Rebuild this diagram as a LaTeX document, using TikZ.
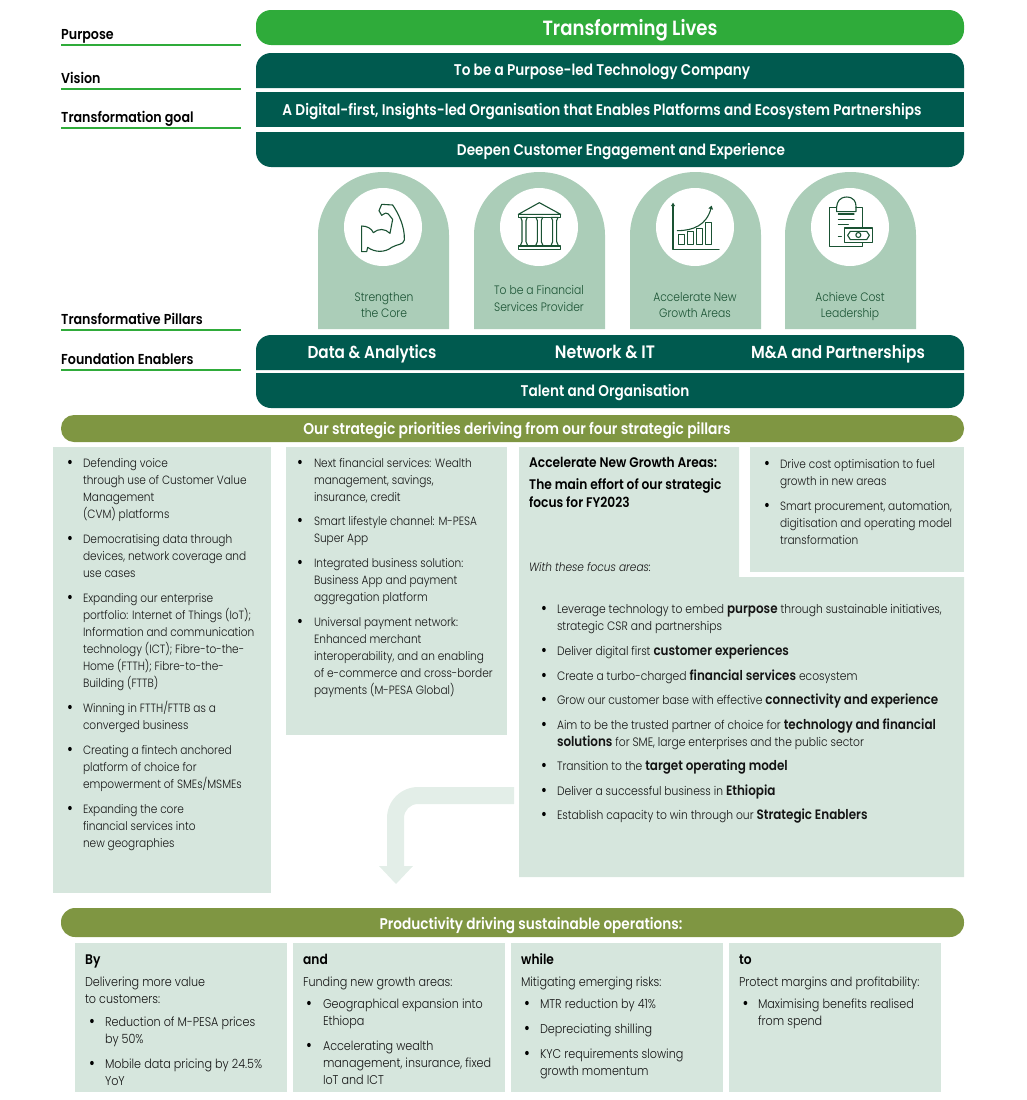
\documentclass[tikz,border=0pt]{standalone}
\usepackage{fontspec}
\setmainfont{Poppins Light}[FakeStretch=0.88,ItalicFont={Poppins Light Italic},BoldFont={Poppins SemiBold}]
\usetikzlibrary{arrows.meta}
\definecolor{brightgreen}{HTML}{2FAB3A}
\definecolor{deepgreen}{HTML}{005A4F}
\definecolor{archgreen}{HTML}{ABCDB8}
\definecolor{icongreen}{HTML}{1A5233}
\definecolor{olive}{HTML}{7F9642}
\definecolor{pale}{HTML}{D6E6DD}
\definecolor{paler}{HTML}{E3EEE8}
\newcounter{tn}
\newcommand{\bsize}{12}
\newcommand{\bodyfont}{\fontsize{\bsize}{17}\selectfont}
\newcommand{\bo}[1]{{\fontsize{13.6}{17}\selectfont\bfseries #1}}
\newcommand{\lines}[1]{\begin{tabular}[t]{@{}l@{}}#1\end{tabular}}
% plain text block: x, first baseline y, lines
\newcommand{\tl}[3]{\stepcounter{tn}\node[txt,name=t\arabic{tn}] at (#1,#2) {\lines{#3}};}
% bulleted block: dot x, text x, first baseline y, lines
\newcommand{\bl}[4]{\stepcounter{tn}\node[dotmark,name=d\arabic{tn}] at (#1,#3) {•};\node[txt,name=t\arabic{tn}] at (#2,#3) {\lines{#4}};}
\newcommand{\hd}[3]{\stepcounter{tn}\node[headtxt,name=h\arabic{tn}] at (#1,#2) {#3};}
\newcommand{\lbl}[3]{\stepcounter{tn}\node[labeltxt,name=l\arabic{tn}] at (61,#1) {#3};\coordinate (la\arabic{tn}) at (61,#2);\coordinate (lb\arabic{tn}) at (241,#2);\draw[labelline] (la\arabic{tn}) -- (lb\arabic{tn});}
\tikzset{
 txt/.style={anchor=base west,inner sep=0pt,outer sep=0pt,text=black!92,font=\bodyfont},
 dotmark/.style={anchor=base,inner sep=0pt,text=black,font=\fontsize{15}{17}\selectfont\bfseries},
 headtxt/.style={anchor=base west,inner sep=0pt,text=black,font=\fontsize{13.9}{17}\selectfont\bfseries},
 labeltxt/.style={anchor=base west,inner sep=0pt,text=black,font=\fontsize{14.4}{15}\selectfont\bfseries},
 labelline/.style={draw=brightgreen,line width=1.4pt},
 bartxt/.style={text=white,font=\fontsize{15.5}{17}\selectfont\bfseries,anchor=base},
 pilltxt/.style={text=icongreen,align=center,font=\fontsize{12.2}{16.5}\selectfont,anchor=base},
 icon/.style={draw=icongreen,line width=1.1pt,line join=round,line cap=round},
}
\begin{document}
\begin{tikzpicture}[x=1pt,y=-1pt]
\useasboundingbox (0,0) rectangle (1026,1100);
% bars
\fill[brightgreen,rounded corners=15pt] (256,10) rectangle (964,45);
\fill[deepgreen] (256,88) -- (256,68) arc[start angle=180,end angle=90,radius=15pt] -- (949,53) arc[start angle=90,end angle=0,radius=15pt] -- (964,88) -- cycle;
\fill[deepgreen] (256,92) rectangle (964,127);
\fill[deepgreen] (256,132) -- (964,132) -- (964,152) arc[start angle=0,end angle=-90,radius=15pt] -- (271,167) arc[start angle=-90,end angle=-180,radius=15pt] -- cycle;
\fill[deepgreen] (256,370) -- (256,350) arc[start angle=180,end angle=90,radius=15pt] -- (949,335) arc[start angle=90,end angle=0,radius=15pt] -- (964,370) -- cycle;
\fill[deepgreen] (256,373) -- (964,373) -- (964,393) arc[start angle=0,end angle=-90,radius=15pt] -- (271,408) arc[start angle=-90,end angle=-180,radius=15pt] -- cycle;
\fill[olive,rounded corners=13pt] (61,415) rectangle (964,442);
\fill[olive,rounded corners=14pt] (61,908) rectangle (964,937);
\node[bartxt,name=purposebar,font=\fontsize{20.6}{22}\selectfont\bfseries] at (630,35) {Transforming Lives};
\node[bartxt,name=visionbar] at (602,75.5) {To be a Purpose-led Technology Company};
\node[bartxt,name=goalbar] at (602,115) {A Digital-first, Insights-led Organisation that Enables Platforms and Ecosystem Partnerships};
\node[bartxt,name=deepenbar] at (621,155.5) {Deepen Customer Engagement and Experience};
\node[bartxt,name=data,font=\fontsize{17.3}{19}\selectfont\bfseries] at (372,358) {Data \& Analytics};
\node[bartxt,name=network,font=\fontsize{18}{19}\selectfont\bfseries] at (605,358) {Network \& IT};
\node[bartxt,name=mna,font=\fontsize{17.4}{19}\selectfont\bfseries] at (838,358) {M\&A and Partnerships};
\node[bartxt,name=talent] at (605,396.5) {Talent and Organisation};
\node[bartxt,name=prio,font=\fontsize{15.7}{17}\selectfont\bfseries] at (517,434) {Our strategic priorities deriving from our four strategic pillars};
\node[bartxt,name=prod] at (531,929) {Productivity driving sustainable operations:};
% side labels
\lbl{39.5}{45}{Purpose}
\lbl{83.5}{89}{Vision}
\lbl{122.5}{128}{Transformation goal}
\lbl{324.5}{330}{Transformative Pillars}
\lbl{364.5}{370}{Foundation Enablers}
% arches
\foreach \ax in {318,474,630,785}{
 \fill[archgreen] (\ax,329) -- (\ax,235) arc[x radius=65.5pt,y radius=63pt,start angle=180,end angle=0] -- (\ax+131,329) -- cycle;
 \fill[white] (\ax+65,227) circle[radius=39pt];
}
\node[pilltxt,name=p1] at (384,301) {Strengthen};
\node[pilltxt,name=p1b] at (384,317.5) {the Core};
\node[pilltxt,name=p2] at (539,294) {To be a Financial};
\node[pilltxt,name=p2b] at (539,311) {Services Provider};
\node[pilltxt,name=p3] at (695,301) {Accelerate New};
\node[pilltxt,name=p3b] at (695,317.5) {Growth Areas};
\node[pilltxt,name=p4] at (850,301) {Achieve Cost};
\node[pilltxt,name=p4b] at (850,317.5) {Leadership};
% icon muscle
\begin{scope}[shift={(310,190)},scale=1/3]
\draw[icon] (155,108) -- (155,185) -- (170,185) -- (173,172) .. controls (195,188) and (225,188) .. (245,172) .. controls (262,162) and (280,165) .. (283,150) .. controls (285,110) and (265,70) .. (248,45) -- (215,43) -- (207,62) -- (215,76) .. controls (225,70) and (230,65) .. (235,72) -- (248,88) -- (240,130) .. controls (225,115) and (205,115) .. (190,128) .. controls (185,115) and (170,108) .. (155,108) -- cycle;
\end{scope}
% icon bank
\begin{scope}[shift={(500,190)},scale=1/3]
\draw[icon] (118,38) -- (182,73) -- (55,73) -- cycle;
\draw[icon] (55,73) rectangle (182,82);
\draw[icon] (55,168) rectangle (182,178);
\foreach \cx in {72,118,164}{
 \draw[icon] (\cx-10,82) -- (\cx+10,82) -- (\cx+6,92) -- (\cx+6,155) -- (\cx+11,167) -- (\cx-11,167) -- (\cx-6,155) -- (\cx-6,92) -- cycle;
}
\end{scope}
% icon growth
\begin{scope}[shift={(660,190)},scale=1/3]
\draw[icon] (39,45) -- (39,178) -- (177,178);
\fill[icongreen] (33,48) -- (39,38) -- (45,48) -- cycle;
\draw[icon] (52,122) .. controls (100,122) and (140,105) .. (153,55);
\fill[icongreen] (145,55) -- (155,47) -- (159,59) -- cycle;
\draw[icon] (55,133) rectangle (73,164);
\draw[icon] (83,125) rectangle (101,164);
\draw[icon] (110,116) rectangle (128,164);
\draw[icon] (136,98) rectangle (154,164);
\end{scope}
% icon clipboard
\begin{scope}[shift={(780,190)},scale=1/3]
\draw[icon] (170,52) -- (148,52) -- (148,170) -- (248,170) -- (248,114);
\draw[icon] (248,114) -- (248,52) -- (228,52);
\draw[icon] (170,65) -- (170,50) .. controls (172,35) and (178,22) .. (200,21) .. controls (222,22) and (228,35) .. (228,50) -- (228,65) -- cycle;
\draw[icon] (175,72) -- (222,72);\draw[icon] (175,88) -- (222,88);\draw[icon] (175,103) -- (205,103);
\draw[icon] (175,140) -- (184,140);
\draw[icon,fill=white] (193,114) rectangle (278,158);
\draw[icon] (203,136) -- (211,124) -- (260,124) -- (268,136) -- (260,149) -- (211,149) -- cycle;
\draw[icon] (235,135) circle[radius=7.5];
\end{scope}
% panels
\fill[pale] (53,447) rectangle (271,893);
\fill[pale] (286,447) rectangle (507,735);
\fill[pale] (519,447) -- (739,447) -- (739,577) -- (964,577) -- (964,877) -- (519,877) -- cycle;
\fill[pale] (750,447) rectangle (964,572);
\fill[pale] (75,943) rectangle (287,1092);
\fill[pale] (293,943) rectangle (505,1092);
\fill[pale] (511,943) rectangle (723,1092);
\fill[pale] (729,943) rectangle (941,1092);
% big arrow
\fill[paler] (514,787) -- (418,787) arc[start angle=90,end angle=180,radius=31pt] -- (387,866) -- (379,866) -- (396,884) -- (413,866) -- (404,866) -- (404,818) arc[start angle=180,end angle=90,radius=14pt] -- (514,804) -- cycle;
% column 1
\bl{70}{83}{467}{Defending voice\\through use of Customer Value\\Management\\(CVM) platforms}
\bl{70}{83}{543}{Democratising data through\\devices, network coverage and\\use cases}
\bl{70}{83}{602}{Expanding our enterprise\\portfolio: Internet of Things (IoT);\\Information and communication\\technology (ICT); Fibre-to-the-\\Home (FTTH); Fibre-to-the-\\Building (FTTB)}
\bl{70}{83}{712}{Winning in FTTH/FTTB as a\\converged business}
\bl{70}{83}{754}{Creating a fintech anchored\\platform of choice for\\empowerment of SMEs/MSMEs}
\bl{70}{83}{813}{Expanding the core\\financial services into\\new geographies}
% column 2
\bl{300}{314}{467}{Next financial services: Wealth\\management, savings,\\insurance, credit}
\bl{300}{314}{525}{Smart lifestyle channel: M-PESA\\Super App}
\bl{300}{314}{567}{Integrated business solution:\\Business App and payment\\aggregation platform}
\bl{300}{314}{626}{Universal payment network:\\Enhanced merchant\\interoperability, and an enabling\\of e-commerce and cross-border\\payments (M-PESA Global)}
% column 3
\hd{529}{467}{Accelerate New Growth Areas:}
\hd{529}{489}{The main effort of our strategic}
\hd{529}{507}{focus for FY2023}
\tl{529}{571}{\textit{With these focus areas:}}
\renewcommand{\bsize}{12.2}
\bl{544}{557}{613}{Leverage technology to embed \bo{purpose} through sustainable initiatives,\\strategic CSR and partnerships}
\bl{544}{557}{655}{Deliver digital first \bo{customer experiences}}
\bl{544}{557}{680}{Create a turbo-charged \bo{financial services} ecosystem}
\bl{544}{557}{704}{Grow our customer base with effective \bo{connectivity and experience}}
\bl{544}{557}{729}{Aim to be the trusted partner of choice for \bo{technology and financial}\\\bo{solutions} for SME, large enterprises and the public sector}
\bl{544}{557}{770}{Transition to the \bo{target operating model}}
\bl{544}{557}{795}{Deliver a successful business in \bo{Ethiopia}}
\bl{544}{557}{819}{Establish capacity to win through our \bo{Strategic Enablers}}
% column 4
\renewcommand{\bsize}{12}
\bl{767}{780}{468}{Drive cost optimisation to fuel\\growth in new areas}
\bl{767}{780}{510}{Smart procurement, automation,\\digitisation and operating model\\transformation}
% bottom
\renewcommand{\bsize}{12.7}
\hd{85}{964}{By}
\tl{85}{986}{Delivering more value\\to customers:}
\bl{92}{105}{1026}{Reduction of M-PESA prices\\by 50\%}
\bl{92}{105}{1068}{Mobile data pricing by 24.5\%\\YoY}
\hd{303}{964}{and}
\tl{303}{986}{Funding new growth areas:}
\bl{309}{323}{1008}{Geographical expansion into\\Ethiopa}
\bl{309}{323}{1050}{Accelerating wealth\\management, insurance, fixed\\IoT and ICT}
\hd{521}{964}{while}
\tl{521}{986}{Mitigating emerging risks:}
\bl{527}{540}{1008}{MTR reduction by 41\%}
\bl{527}{540}{1033}{Depreciating shilling}
\bl{527}{540}{1058}{KYC requirements slowing\\growth momentum}
\hd{739}{964}{to}
\tl{739}{986}{Protect margins and profitability:}
\bl{745.5}{758}{1008}{Maximising benefits realised\\from spend}
\end{tikzpicture}
\end{document}
